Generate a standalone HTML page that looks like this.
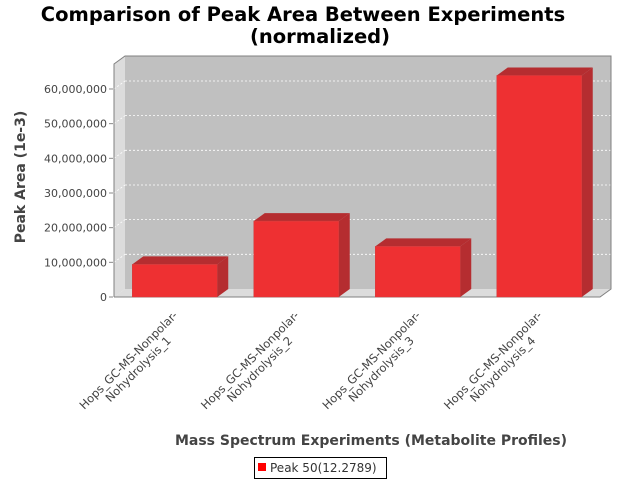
<!DOCTYPE html>
<html><head><meta charset="utf-8"><style>
body{margin:0;background:#fff;}
svg{display:block;font-family:"DejaVu Sans","Liberation Sans",sans-serif;}
</style></head><body>
<svg id="chart" width="640" height="480">
<text x="303" y="21" text-anchor="middle" font-size="19.5" font-weight="bold" fill="#000">Comparison of Peak Area Between Experiments</text>
<text x="320" y="43" text-anchor="middle" font-size="19.5" font-weight="bold" fill="#000">(normalized)</text>
<g id="plot"></g>
<text transform="translate(25,177) rotate(-90)" text-anchor="middle" font-size="14" font-weight="bold" fill="#444">Peak Area (1e-3)</text>
<text x="371" y="445" text-anchor="middle" font-size="14" font-weight="bold" fill="#444">Mass Spectrum Experiments (Metabolite Profiles)</text>
<g>
<rect x="254.5" y="457.5" width="132" height="21" fill="#fff" stroke="#000"/>
<rect x="258" y="463" width="8" height="8" fill="#f00"/>
<text x="270" y="472" font-size="12" fill="#333">Peak 50(12.2789)</text>
</g>
</svg>
<script>
const categories1 = ["Hops_GC-MS-Nonpolar-","Hops_GC-MS-Nonpolar-","Hops_GC-MS-Nonpolar-","Hops_GC-MS-Nonpolar-"];
const categories2 = ["Nohydrolysis_1","Nohydrolysis_2","Nohydrolysis_3","Nohydrolysis_4"];
const values = [9400000, 21900000, 14600000, 63900000];
const ticks = [0,10000000,20000000,30000000,40000000,50000000,60000000];
const NS="http://www.w3.org/2000/svg";
const g=document.getElementById('plot');
const X0=114, X1=600, DX=11, DY=8, Y0=297, PX_PER=34.67/10000000;
function y(v){return Y0 - v*PX_PER;}
const n=categories1.length, step=(X1-X0)/n, bw=85;
function cx(i){return X0+step*(i+0.5);}
function mk(tag,attrs){const e=document.createElementNS(NS,tag);for(const k in attrs)e.setAttribute(k,attrs[k]);g.appendChild(e);return e;}
const TOPY=56;
let e;
e=mk('polygon',{points:`${X0+DX},${TOPY} ${X1+DX},${TOPY} ${X1+DX},${Y0-DY} ${X0+DX},${Y0-DY}`,fill:'#c0c0c0'});


e=mk('polygon',{points:`${X0},${TOPY+DY} ${X0+DX},${TOPY} ${X0+DX},${Y0-DY} ${X0},${Y0}`,fill:'#dcdcdc'});


e=mk('polygon',{points:`${X0},${Y0} ${X0+DX},${Y0-DY} ${X1+DX},${Y0-DY} ${X1},${Y0}`,fill:'#dcdcdc'});


ticks.forEach(t=>{
  if(t>0){
    e=mk('line',{x1:X0+DX,x2:X1+DX,y1:y(t)-DY,y2:y(t)-DY,stroke:'#fff','stroke-dasharray':'2,2','stroke-width':0.8});
    
    
    mk('line',{x1:X0,x2:X0+DX,y1:y(t),y2:y(t)-DY,stroke:'#fff','stroke-dasharray':'2,2','stroke-width':0.8});
  }
  e=mk('line',{x1:X0-5,x2:X0-1,y1:y(t),y2:y(t),stroke:'#888'});
  
  
  e=mk('text',{x:X0-7,y:y(t)+4,'text-anchor':'end','font-size':11,fill:'#444'});
  e.textContent=t.toLocaleString('en-US');
  
  
});
e=mk('polyline',{points:`${X0},${Y0} ${X0},${TOPY+DY} ${X0+DX},${TOPY} ${X1+DX},${TOPY} ${X1+DX},${Y0-DY} ${X1},${Y0} ${X0},${Y0}`,fill:'none',stroke:'#808080'});


values.forEach((v,i)=>{
  const l=cx(i)-bw/2, r=l+bw, t=y(v);
  e=mk('polygon',{points:`${l},${t} ${l+DX},${t-DY} ${r+DX},${t-DY} ${r},${t}`,fill:'#b52d30'});
  
  
  e=mk('polygon',{points:`${r},${t} ${r+DX},${t-DY} ${r+DX},${Y0-DY} ${r},${Y0}`,fill:'#b52d30'});
  
  
  e=mk('rect',{x:l,y:t,width:bw,height:Y0-t,fill:'#ee3032',stroke:'#d04040','stroke-width':0.5});
  
  
  const c=cx(i);
  e=mk('text',{transform:`translate(${c-43.5},363) rotate(-45)`,'text-anchor':'middle','font-size':11.5,fill:'#444'});
  e.textContent=categories1[i];
  
  
  e=mk('text',{transform:`translate(${c-33.8},372) rotate(-45)`,'text-anchor':'middle','font-size':11.5,fill:'#444'});
  e.textContent=categories2[i];
  
  
});
</script>
</body></html>
